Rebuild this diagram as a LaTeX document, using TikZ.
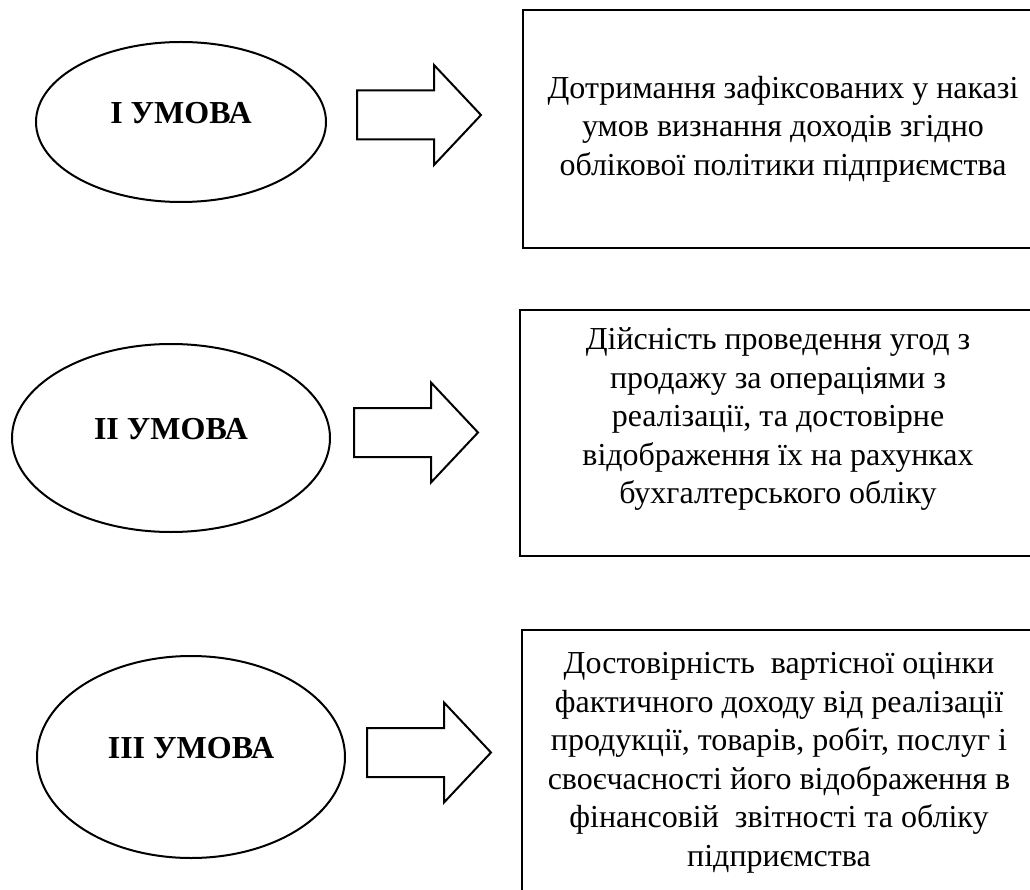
\documentclass[tikz,border=0pt]{standalone}
\usepackage{fontspec}
\setmainfont{Liberation Serif}
\usepackage{tikz}
\usetikzlibrary{shapes,arrows,calc}
\usetikzlibrary{positioning}
\tikzstyle{umova_style}=[draw, ellipse, line width=2pt, anchor=center,
text centered, font=\fontsize{32}{38.5}\selectfont\bfseries, text height=21pt, text depth=18pt]
\tikzstyle{diagram0}=[draw, rectangle, line width=2.5pt, anchor=center,
align=center, inner sep=0pt, font=\fontsize{32}{38.5}\selectfont]
\tikzstyle{blockarrow}=[draw, line width=2pt, line join=miter, fill=white]

\begin{document}
\begin{tikzpicture}[x=1pt,y=-1pt]
		\useasboundingbox (0,0) rectangle (1030,890);
		\clip (0,0) rectangle (1030,890);

		% conditions
		\node[umova_style, minimum width=290pt, minimum height=160pt] (A) at (181,122) {I УМОВА} ;
		\node[umova_style, minimum width=318pt, minimum height=188pt] (B) at (171,438) {II УМОВА} ;
		\node[umova_style, minimum width=308pt, minimum height=202pt] (C) at (191,757) {III УМОВА} ;

		% descriptions
		\node[diagram0, minimum width=520pt, minimum height=238pt] (D) at (783,129) {Дотримання зафіксованих у наказі\\умов визнання доходів згідно\\облікової політики підприємства} ;
		\node[diagram0, minimum width=516pt, minimum height=246pt] (E) at (778,433) {Дійсність проведення угод з\\продажу за операціями з\\реалізації, та достовірне\\відображення їх на рахунках\\бухгалтерського обліку\rule[-34pt]{0pt}{34pt}} ;
		\node[diagram0, minimum width=514pt, minimum height=266pt] (F) at (779,763) {Достовірність\ \ вартісної оцінки\\фактичного доходу від реалізації\\продукції, товарів, робіт, послуг і\\своєчасності його відображення в\\фінансовій\ \ звітності та обліку\\підприємства} ;

		% block arrows
		\coordinate (a) at (357,115) ;
		\coordinate (b) at (354,432.5) ;
		\coordinate (c) at (367,752.5) ;
		\foreach \p in {a,b,c}
			\draw[blockarrow] (\p) -- ++(0,-24.5) -- ++(77,0) -- ++(0,-25.5) -- ++(47,50) -- ++(-47,50) -- ++(0,-25.5) -- ++(-77,0) -- cycle ;

\end{tikzpicture}
\end{document}
